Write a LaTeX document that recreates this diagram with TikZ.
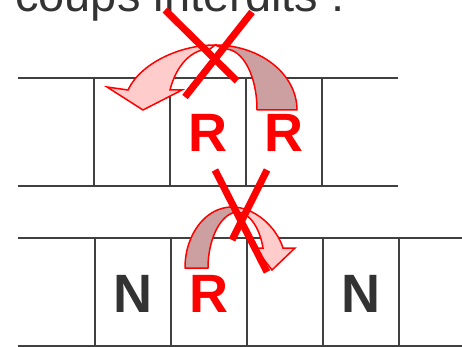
\documentclass[tikz,border=0pt]{standalone}
\usepackage{fontspec}
\setmainfont{Liberation Sans}
\usepackage{xcolor}
\definecolor{gridgray}{HTML}{404040}
\definecolor{txtgray}{HTML}{333333}
\definecolor{backrose}{HTML}{CCA0A0}
\definecolor{frontrose}{HTML}{FFCCCC}
\tikzset{
  gridline/.style={draw=gridgray,line width=2.8pt},
  piece/.style={inner sep=0pt,anchor=base,font=\fontsize{54}{54}\selectfont\bfseries},
  bandback/.style={draw=red,line width=1.5pt,fill=backrose,line join=round},
  bandfront/.style={draw=red,line width=1.5pt,fill=frontrose,line join=miter},
  forbid/.style={draw=red,line width=7pt}
}
\begin{document}
\begin{tikzpicture}[x=1pt,y=-1pt]
        \useasboundingbox (0,0) rectangle (462,347);

        % title
        \node[inner sep=0pt,anchor=base west,text=txtgray,font=\fontsize{47}{47}\selectfont] (title) at (15,11.5) {coups interdits :};

        % first board
        \draw[gridline] (18,78) -- (398,78);
        \draw[gridline] (18,186) -- (398,186);
        \foreach \x in {94,170,246,322}
            \draw[gridline] (\x,78) -- (\x,186);
        \node[piece,text=red] (r1) at (208,152) {R};
        \node[piece,text=red] (r2) at (284,152) {R};

        % second board
        \draw[gridline] (18,238) -- (462,238);
        \draw[gridline] (18,346) -- (462,346);
        \foreach \x in {95,171,247,323,399}
            \draw[gridline] (\x,238) -- (\x,346);
        \node[piece,text=txtgray] (n1) at (133,312) {N};
        \node[piece,text=red] (r3) at (209,312) {R};
        \node[piece,text=txtgray] (n2) at (361,312) {N};

        % jump over the neighbour
        \draw[bandback] (297,110) .. controls (297,74) and (260,45) .. (215,45)
            -- (225,49) .. controls (243,49) and (257,76) .. (257,110) -- cycle;
        \draw[bandfront] (215,45) .. controls (179,45) and (140,64) .. (128,90)
            -- (107,87) -- (143,110) -- (182,90) -- (170,90)
            .. controls (176,66) and (191,49) .. (210,49) -- cycle;
        \draw[forbid] (165,10) -- (237,81);
        \draw[forbid] (252,12) -- (185,97);

        % jump onto the empty square
        \draw[bandback] (185,268) .. controls (185,234) and (206,207) .. (232,207)
            -- (238,212) .. controls (222,212) and (208,237) .. (208,268) -- cycle;
        \draw[bandfront] (232,207) .. controls (254,207) and (276,226) .. (283,248)
            -- (295,248) -- (272,270) -- (255,248) -- (263,248)
            .. controls (260,229) and (250,213) .. (238,212) -- cycle;
        \draw[forbid] (215,170) -- (267,272);
        \draw[forbid] (267,170) -- (232,240);
\end{tikzpicture}
\end{document}
